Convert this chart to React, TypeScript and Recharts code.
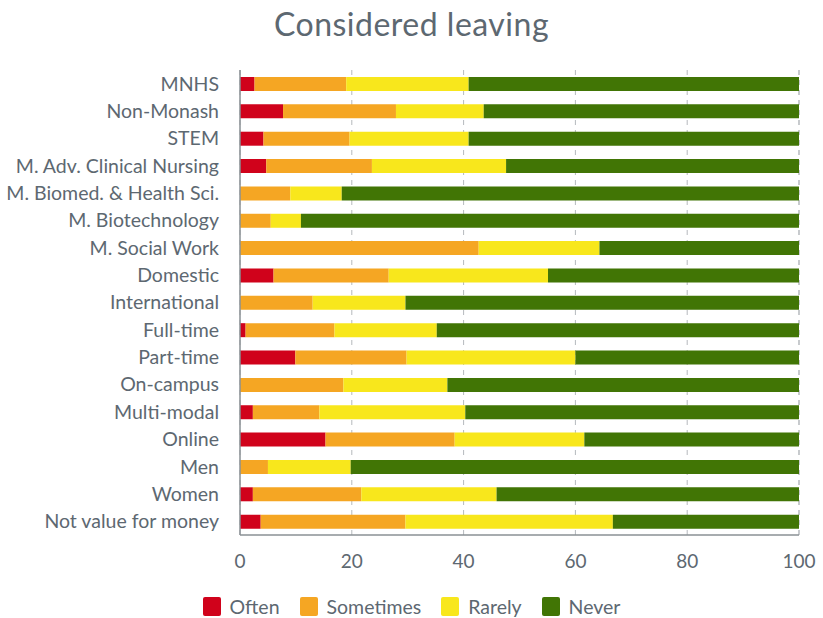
import { Bar, BarChart, CartesianGrid, XAxis, YAxis } from "recharts";

const categories = [
  "MNHS",
  "Non-Monash",
  "STEM",
  "M. Adv. Clinical Nursing",
  "M. Biomed. & Health Sci.",
  "M. Biotechnology",
  "M. Social Work",
  "Domestic",
  "International",
  "Full-time",
  "Part-time",
  "On-campus",
  "Multi-modal",
  "Online",
  "Men",
  "Women",
  "Not value for money",
];

const often = [2.6, 7.7, 4.2, 4.7, 0, 0, 0, 6.0, 0, 1.0, 9.9, 0, 2.3, 15.3, 0, 2.3, 3.7];
const sometimes = [16.4, 20.2, 15.4, 18.9, 9.0, 5.5, 42.7, 20.6, 13.0, 15.9, 19.9, 18.5, 11.9, 23.1, 5.0, 19.4, 25.9];
const rarely = [21.9, 15.7, 21.3, 24.0, 9.2, 5.4, 21.6, 28.5, 16.6, 18.3, 30.2, 18.6, 26.1, 23.2, 14.8, 24.2, 37.1];
const never = [59.1, 56.4, 59.1, 52.4, 81.8, 89.1, 35.7, 44.9, 70.4, 64.8, 40.0, 62.9, 59.7, 38.4, 80.2, 54.1, 33.3];

const xTicks = [0, 20, 40, 60, 80, 100];

const series = [
  { key: "often", name: "Often", color: "#d0021b" },
  { key: "sometimes", name: "Sometimes", color: "#f5a623" },
  { key: "rarely", name: "Rarely", color: "#f8e71c" },
  { key: "never", name: "Never", color: "#417505" },
];

const textColor = "#5d6871";
const font = "Lato, 'Open Sans', sans-serif";

const data = categories.map((c, i) => ({
  name: c,
  often: often[i],
  sometimes: sometimes[i],
  rarely: rarely[i],
  never: never[i],
}));

export default function App() {
  return (
    <div
      style={{
        position: "absolute",
        left: 0,
        top: 0,
        width: 823,
        height: 618,
        background: "#fff",
        fontFamily: font,
      }}
    >
      <div
        style={{
          position: "absolute",
          top: 4,
          left: 0,
          width: 823,
          textAlign: "center",
          fontSize: 32,
          lineHeight: "40px",
          letterSpacing: 0.5,
          color: textColor,
        }}
      >
        Considered leaving
      </div>
      <BarChart
        width={823}
        height={618}
        data={data}
        layout="vertical"
        margin={{ top: 70, right: 24, left: 0, bottom: 53 }}
      >
        <CartesianGrid
          horizontal={false}
          stroke="#b5b9bd"
          strokeDasharray="5 5"
        />
        <XAxis
          type="number"
          domain={[0, 100]}
          ticks={xTicks}
          height={30}
          tickLine={false}
          tickSize={0}
          tickMargin={20}
          stroke="#8a9095"
          strokeWidth={1.5}
          tick={{ fill: textColor, fontSize: 19, fontFamily: font }}
        />
        <YAxis
          type="category"
          dataKey="name"
          width={240}
          interval={0}
          tickLine={false}
          tickSize={0}
          tickMargin={21}
          stroke="#8a9095"
          strokeWidth={1.5}
          tick={{ fill: textColor, fontSize: 19.5, fontFamily: font }}
        />
        {series.map((s) => (
          <Bar
            key={s.key}
            dataKey={s.key}
            name={s.name}
            stackId="a"
            fill={s.color}
            barSize={14}
            isAnimationActive={false}
          />
        ))}
      </BarChart>
      <div
        style={{
          position: "absolute",
          top: 597,
          left: 0,
          width: 823,
          height: 19,
          display: "flex",
          justifyContent: "center",
          alignItems: "center",
          fontSize: 19.5,
          color: textColor,
        }}
      >
        {series.map((s) => (
          <div
            key={s.key}
            style={{ display: "flex", alignItems: "center", margin: "0 10px" }}
          >
            <span
              style={{
                display: "inline-block",
                width: 18,
                height: 19,
                borderRadius: 2,
                background: s.color,
                marginRight: 9,
              }}
            />
            {s.name}
          </div>
        ))}
      </div>
    </div>
  );
}
